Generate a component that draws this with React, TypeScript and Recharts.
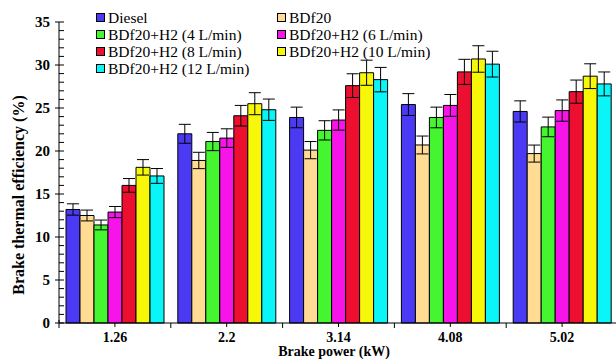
import { BarChart, Bar, XAxis, YAxis, ErrorBar, Legend } from 'recharts'

// brake power categories (kW)
const POWER = ['1.26', '2.2', '3.14', '4.08', '5.02']

// brake thermal efficiency (%) per fuel blend
const DIESEL = [13.2, 22.0, 23.9, 25.4, 24.6]
const BDF20 = [12.5, 18.9, 20.1, 20.7, 19.7]
const H2_4 = [11.4, 21.1, 22.4, 23.9, 22.8]
const H2_6 = [12.9, 21.5, 23.6, 25.3, 24.7]
const H2_8 = [16.0, 24.1, 27.6, 29.2, 26.9]
const H2_10 = [18.1, 25.5, 29.1, 30.7, 28.7]
const H2_12 = [17.1, 24.8, 28.3, 30.1, 27.8]

// error bar half-heights
const DIESEL_ERR = [0.66, 1.1, 1.2, 1.27, 1.23]
const BDF20_ERR = [0.63, 0.95, 1.0, 1.04, 0.99]
const H2_4_ERR = [0.57, 1.06, 1.12, 1.2, 1.14]
const H2_6_ERR = [0.65, 1.08, 1.18, 1.27, 1.24]
const H2_8_ERR = [0.8, 1.2, 1.38, 1.46, 1.35]
const H2_10_ERR = [0.9, 1.28, 1.46, 1.54, 1.44]
const H2_12_ERR = [0.86, 1.24, 1.42, 1.5, 1.39]

const Y_TICKS = Array.from({ length: 36 }, (_, i) => i)

const SERIES = [
  { key: 'diesel', name: 'Diesel', color: '#4a3af4', values: DIESEL, err: DIESEL_ERR },
  { key: 'bdf20', name: 'BDf20', color: '#ffdb94', values: BDF20, err: BDF20_ERR },
  { key: 'h4', name: 'BDf20+H2 (4 L/min)', color: '#44f52f', values: H2_4, err: H2_4_ERR },
  { key: 'h6', name: 'BDf20+H2 (6 L/min)', color: '#f714e9', values: H2_6, err: H2_6_ERR },
  { key: 'h8', name: 'BDf20+H2 (8 L/min)', color: '#ec0f2f', values: H2_8, err: H2_8_ERR },
  { key: 'h10', name: 'BDf20+H2 (10 L/min)', color: '#f7f70a', values: H2_10, err: H2_10_ERR },
  { key: 'h12', name: 'BDf20+H2 (12 L/min)', color: '#0af5f7', values: H2_12, err: H2_12_ERR },
]

const data = POWER.map((p, i) => {
  const row: Record<string, string | number> = { p }
  SERIES.forEach((s) => {
    row[s.key] = s.values[i]
    row[s.key + 'Err'] = s.err[i]
  })
  return row
})

const W = 620
const H = 360
const LEFT = 59
const TOP = 22
const BOTTOM = 323
const RIGHT = 2
const BAND = (W - LEFT - RIGHT) / POWER.length
const FONT = '"Liberation Serif", "Times New Roman", serif'

// major ticks cross the axis, minor ones sit inside the plot
function YTick({ y, payload }: any) {
  const major = payload.value % 5 === 0
  return (
    <g>
      <line x1={major ? LEFT - 4 : LEFT} x2={LEFT + 5} y1={y} y2={y} stroke="#000" strokeWidth={1} />
      {major && (
        <text x={LEFT - 9} y={y} dy={5} textAnchor="end" fontFamily={FONT} fontWeight="bold" fontSize={15} fill="#000">
          {payload.value}
        </text>
      )}
    </g>
  )
}

function XTick({ x, payload }: any) {
  const edge = x - BAND / 2
  return (
    <g>
      <line x1={x} x2={x} y1={BOTTOM} y2={BOTTOM + 4} stroke="#000" />
      <line x1={edge} x2={edge} y1={payload.index === 0 ? BOTTOM - 3 : BOTTOM} y2={BOTTOM + 5} stroke="#000" />
      <text x={x} y={342} textAnchor="middle" fontFamily={FONT} fontWeight="bold" fontSize={14} fill="#000">
        {payload.value}
      </text>
    </g>
  )
}

function XTitle() {
  return (
    <text x={334} y={356} textAnchor="middle" fontFamily={FONT} fontWeight="bold" fontSize={14} fill="#000">
      Brake power (kW)
    </text>
  )
}

function YTitle() {
  return (
    <text
      transform="translate(24, 195) rotate(-90)"
      textAnchor="middle"
      fontFamily={FONT}
      fontWeight="bold"
      fontSize={16}
      fill="#000"
    >
      Brake thermal efficiency (%)
    </text>
  )
}

function LegendBox() {
  return (
    <div style={{ display: 'grid', gridTemplateColumns: '181px 200px', fontFamily: FONT, fontSize: 15.5, color: '#000' }}>
      {SERIES.map((s) => (
        <div key={s.key} style={{ display: 'flex', alignItems: 'center', height: 17, whiteSpace: 'nowrap' }}>
          <span style={{ width: 7, height: 7, background: s.color, border: '1px solid #000', marginRight: 3, display: 'inline-block' }} />
          {s.name}
        </div>
      ))}
    </div>
  )
}

export default function App() {
  return (
    <div style={{ position: 'absolute', left: 0, top: 0, width: 616, height: 360, overflow: 'hidden', background: '#fff' }}>
      <BarChart width={W} height={H} data={data} margin={{ top: TOP, right: RIGHT, bottom: 0, left: 0 }} barCategoryGap={7} barGap={0}>
        <XAxis
          dataKey="p"
          height={H - BOTTOM}
          axisLine={{ stroke: '#000' }}
          tickLine={false}
          tick={<XTick />}
          interval={0}
          label={<XTitle />}
        />
        <YAxis
          width={LEFT}
          domain={[0, 35]}
          ticks={Y_TICKS}
          interval={0}
          axisLine={{ stroke: '#000' }}
          tickLine={false}
          tick={<YTick />}
          label={<YTitle />}
        />
        <Legend
          layout="horizontal"
          verticalAlign="middle"
          align="center"
          content={<LegendBox />}
          wrapperStyle={{ top: 9, left: 96, width: 'auto' }}
        />
        {SERIES.map((s) => (
          <Bar key={s.key} dataKey={s.key} name={s.name} fill={s.color} stroke="#000" strokeWidth={1} isAnimationActive={false}>
            <ErrorBar dataKey={s.key + 'Err'} width={6} stroke="#000" strokeWidth={1} direction="y" />
          </Bar>
        ))}
      </BarChart>
    </div>
  )
}
